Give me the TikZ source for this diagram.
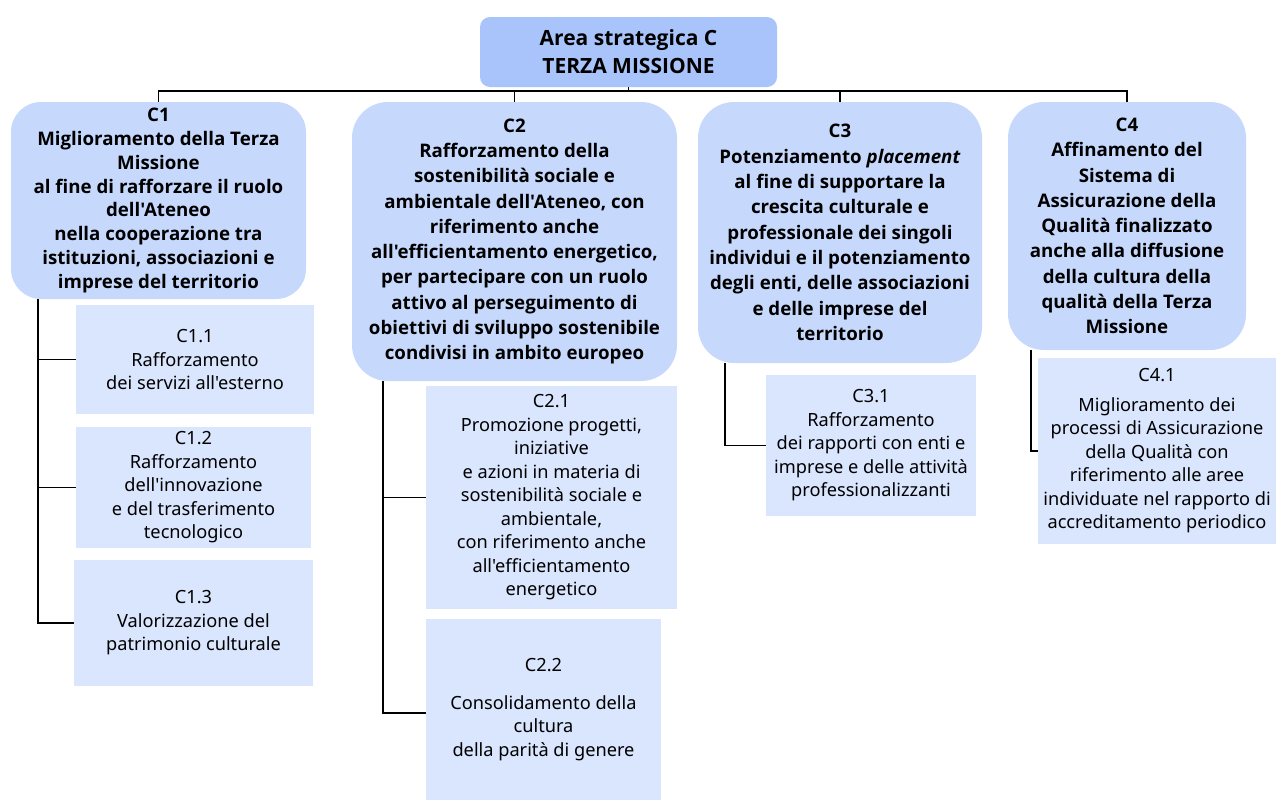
\documentclass[tikz,border=0pt]{standalone}
\usepackage{fontspec}
\setmainfont{Noto Sans}[Ligatures=TeXOff]
\newfontfamily\goalfont{Open Sans}[Ligatures=TeXOff]
\usepackage{tikz}
\definecolor{areablue}{HTML}{A9C4FA}
\definecolor{goalblue}{HTML}{C6D9FC}
\definecolor{actionblue}{HTML}{DAE6FD}
\tikzstyle{area} = [rectangle, fill=areablue, rounded corners=10, inner sep=0pt,
                 align=center, font=\fontsize{21}{28}\selectfont\goalfont\bfseries]
\tikzstyle{goal} = [rectangle, fill=goalblue, rounded corners=36, inner sep=0pt,
                 align=center, font=\fontsize{18.7}{25.3}\selectfont\goalfont\bfseries]
\tikzstyle{action} = [rectangle, fill=actionblue, inner sep=0pt,
                 align=center, font=\fontsize{18.2}{23.5}\selectfont]
\tikzstyle{branch} = [line width=1.7pt, draw]

\begin{document}
\begin{tikzpicture}[x=1pt,y=-1pt]

\useasboundingbox (0,0) rectangle (1276,801);

\node [area, minimum width=297, minimum height=70] at (628.5,52) (areac)
	{Area strategica C\\TERZA MISSIONE};

% obiettivi
\node [goal, rounded corners=30, minimum width=295, minimum height=197,
	font=\fontsize{18.7}{23.8}\selectfont\goalfont\bfseries] at (158.5,200.5) (c1)
	{C1\\Miglioramento della Terza\\Missione\\al fine di rafforzare il ruolo\\dell'Ateneo\\nella cooperazione tra\\istituzioni, associazioni e\\imprese del territorio};
\node [goal, minimum width=325, minimum height=279] at (514.5,241.5) (c2)
	{C2\\Rafforzamento della\\sostenibilità sociale e\\ambientale dell'Ateneo, con\\riferimento anche\\all'efficientamento energetico,\\per partecipare con un ruolo\\attivo al perseguimento di\\obiettivi di sviluppo sostenibile\\condivisi in ambito europeo};
\node [goal, minimum width=284, minimum height=261] at (840,232.5) (c3)
	{C3\\Potenziamento \textit{placement}\\al fine di supportare la\\crescita culturale e\\professionale dei singoli\\individui e il potenziamento\\degli enti, delle associazioni\\e delle imprese del\\territorio};
\node [goal, minimum width=238, minimum height=248] at (1127,226) (c4)
	{C4\\Affinamento del\\Sistema di\\Assicurazione della\\Qualità finalizzato\\anche alla diffusione\\della cultura della\\qualità della Terza\\Missione};

% azioni
\node [action, minimum width=238, minimum height=109] at (195,359.5) (c11)
	{C1.1\\Rafforzamento\\dei servizi all'esterno};
\node [action, minimum width=235, minimum height=121] at (193.5,487.5) (c12)
	{C1.2\\Rafforzamento\\dell'innovazione\\e del trasferimento\\tecnologico};
\node [action, minimum width=239, minimum height=126] at (193.5,623) (c13)
	{C1.3\\Valorizzazione del\\patrimonio culturale};
\node [action, minimum width=251, minimum height=223] at (551.5,497.5) (c21)
	{C2.1\\Promozione progetti,\\iniziative\\e azioni in materia di\\sostenibilità sociale e\\ambientale,\\con riferimento anche\\all'efficientamento\\energetico};
\node [action, minimum width=235, minimum height=181] at (543.5,709.5) (c22)
	{C2.2\\[14pt]Consolidamento della\\cultura\\della parità di genere};
\node [action, minimum width=210, minimum height=141] at (871,445.5) (c31)
	{C3.1\\Rafforzamento\\dei rapporti con enti e\\imprese e delle attività\\professionalizzanti};
\node [action, minimum width=238, minimum height=186] at (1157,451) (c41)
	{C4.1\\[6pt]Miglioramento dei\\processi di Assicurazione\\della Qualità con\\riferimento alle aree\\individuate nel rapporto di\\accreditamento periodico};

% rami
\path [branch] (areac.south) -- ++(0,4);
\path [branch] (c1.north) -- ++(0,-11) -| (c4.north);
\path [branch] (c2.north) -- ++(0,-11);
\path [branch] (c3.north) -- ++(0,-11);

\path [branch] ([xshift=27]c1.south west) |- (c11.west);
\path [branch] ([xshift=27]c1.south west) |- (c12.west);
\path [branch] ([xshift=27]c1.south west) |- (c13.west);
\path [branch] ([xshift=31]c2.south west) |- (c21.west);
\path [branch] ([xshift=31]c2.south west) |- ([yshift=-3.5]c22.west);
\path [branch] ([xshift=27]c3.south west) |- (c31.west);
\path [branch] ([xshift=23]c4.south west) |- (c41.west);

\end{tikzpicture}
\end{document}
